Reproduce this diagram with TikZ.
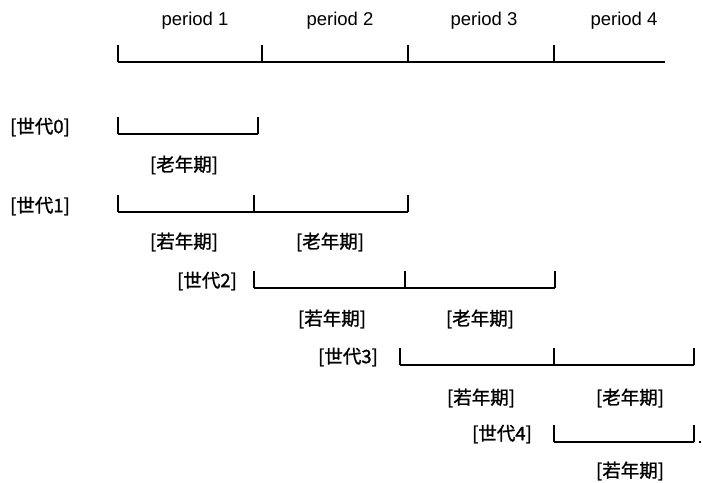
\documentclass[tikz,border=0pt]{standalone}
\usepackage{fontspec}
\setmainfont{Liberation Sans}
\newfontfamily\cjk{Noto Sans CJK JP}[FakeBold=1.2]
\tikzset{
  baseline rule/.style={line width=1.3pt},
  tickmark/.style={line width=1.7pt},
  period/.style={font=\fontsize{18.5}{22}\selectfont, inner sep=0pt},
  gen/.style={font=\cjk\fontsize{18.5}{22}\selectfont, inner sep=0pt},
  phase/.style={font=\cjk\fontsize{18.5}{22}\selectfont, inner sep=0pt},
}
% a time bar: ticks at the listed x positions
\newcommand\tickrow[2]{%
  \foreach \tx in {#2} {\draw[tickmark] (\tx,#1) -- (\tx,#1-17);}%
}
\begin{document}
\begin{tikzpicture}[x=1pt,y=-1pt]
\useasboundingbox (0,0) rectangle (703,482);

% period headings
\node[period] (p1) at (195,21) {period 1};
\node[period] (p2) at (340,21) {period 2};
\node[period] (p3) at (484,21) {period 3};
\node[period] (p4) at (624,21) {period 4};

% time axis
\coordinate (a0) at (118,62);
\coordinate (a4) at (665,62);
\draw[baseline rule] (a0) -- (a4);
\tickrow{62}{118,262,408,554}

% generation 0
\node[gen] (g0) at (40,127) {[世代0]};
\coordinate (g0s) at (118,134);
\coordinate (g0e) at (258,134);
\draw[baseline rule] (g0s) -- (g0e);
\tickrow{134}{118,258}
\node[phase] (g0old) at (184,165) {[老年期]};

% generation 1
\node[gen] (g1) at (40,206) {[世代1]};
\coordinate (g1s) at (118,212);
\coordinate (g1e) at (408,212);
\draw[baseline rule] (g1s) -- (g1e);
\tickrow{212}{118,254,408}
\node[phase] (g1young) at (184,242) {[若年期]};
\node[phase] (g1old) at (330,242) {[老年期]};

% generation 2
\node[gen] (g2) at (207,281) {[世代2]};
\coordinate (g2s) at (254,288);
\coordinate (g2e) at (555,288);
\draw[baseline rule] (g2s) -- (g2e);
\tickrow{288}{254,405,555}
\node[phase] (g2young) at (332,319) {[若年期]};
\node[phase] (g2old) at (480,319) {[老年期]};

% generation 3
\node[gen] (g3) at (348,357) {[世代3]};
\coordinate (g3s) at (400,365);
\coordinate (g3e) at (694,365);
\draw[baseline rule] (g3s) -- (g3e);
\tickrow{365}{400,554,694}
\node[phase] (g3young) at (481,398) {[若年期]};
\node[phase] (g3old) at (630,398) {[老年期]};

% generation 4
\node[gen] (g4) at (502,434) {[世代4]};
\coordinate (g4s) at (554,442);
\coordinate (g4e) at (694,442);
\draw[baseline rule] (g4s) -- (g4e);
\tickrow{442}{554,694}
\fill (699,441) rectangle (701,443);
\node[phase] (g4young) at (630,471) {[若年期]};
\end{tikzpicture}
\end{document}
